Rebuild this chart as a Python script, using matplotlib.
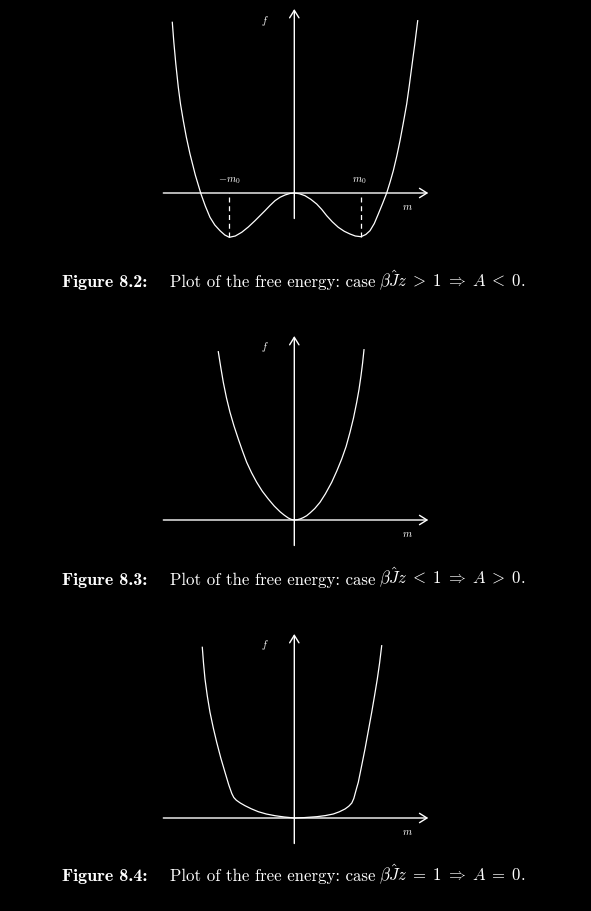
import numpy as np
import matplotlib.pyplot as plt

plt.rcParams['mathtext.fontset'] = 'cm'

# curve samples (arbitrary units, m to the right, f up)
m_82 = [-122, -120.5, -118.5, -116, -113.8, -111, -108, -104.3, -99, -93.3, -89, -84.3, -79.5, -74.3,
        -69.5, -65, -59, -52.6, -46, -39.3, -34.3, -29.3, -24.3, -19.3, -14.3, -9.3, -4.5, 0,
        5, 10.7, 16.5, 22.4, 27.5, 32.4, 38, 44, 50, 55.7, 61, 66.7, 71.5, 75.7, 80, 84,
        88.3, 92.4, 95.8, 99, 102.5, 105.7, 109, 112.4, 115, 117.4, 120.5, 123.4]
f_82 = [170.7, 151.2, 129.2, 105.7, 89, 72.3, 56, 39, 18, -1, -13, -24.3, -32, -37.7,
        -42, -44.3, -43, -39.3, -34, -27.7, -22.7, -17.7, -12.5, -7.7, -4.3, -2, -0.5, 0,
        -0.7, -2.7, -6.3, -11, -16.5, -22.7, -28.8, -34.3, -38.3, -41, -43, -43.7, -41.5, -37.7, -30.5, -21,
        -10.5, 0, 11, 22.3, 37, 52.3, 70, 89, 107.5, 125.7, 149, 172.3]
m0_82 = [-65, 66.7]
fmin_82 = [-44.3, -43.7]

m_83 = [-76, -73.5, -71, -67.8, -64.3, -60.3, -56, -51.8, -47.6, -42.7, -37.6, -32, -26, -20,
        -14.3, -10, -6, -3, 0, 3, 6, 9, 12.4, 16, 20.5, 25.7, 31, 37.4, 42.5, 47.4, 51.8,
        55.7, 59.2, 62.4, 64.7, 66.7, 68.3, 69.7]
f_83 = [168.3, 152.5, 137.7, 122, 107.7, 94, 81, 69, 57.7, 47.2, 37.7, 28.8, 21, 13.9,
        8.3, 4.8, 2, 0.6, 0, 0.3, 1.1, 2.4, 4.3, 7.3, 11.5, 17.7, 26, 37.7, 49, 61, 73.5,
        87.7, 102, 117.7, 130.5, 144.3, 157, 170.3]

m_84 = [-92, -90.8, -89.3, -87, -84.3, -81, -77.6, -73.5, -69.3, -65.5, -62.5, -60.5, -58, -54,
        -49.3, -43, -36, -28, -19.3, -10, 0, 10, 22.4, 31, 39, 45, 50.7, 54.5, 57.5, 59.5,
        61, 62.5, 64, 67.3, 70.7, 74, 77.4, 80.2, 83, 85.3, 87.4]
f_84 = [170.7, 155, 139, 122, 105.7, 90, 75.7, 60, 45.7, 33, 24.5, 20.5, 17.8, 15,
        12.3, 9.2, 6.3, 4, 2.3, 1, 0, 0.4, 1.3, 2.4, 4, 6.2, 9, 11.8, 15, 19.5,
        25, 30.5, 35.7, 52, 69, 87, 105.7, 122, 139, 155, 172.3]

fig_labels = ['Figure 8.2:', 'Figure 8.3:', 'Figure 8.4:']
cap_text = 'Plot of the free energy: case'
cap_math = [r'$\beta\hat{J}z\;>\;1\;\Rightarrow\;A\;<\;0.$',
            r'$\beta\hat{J}z\;<\;1\;\Rightarrow\;A\;>\;0.$',
            r'$\beta\hat{J}z\;=\;1\;\Rightarrow\;A\;=\;0.$']

W, H = 591, 912
fig = plt.figure(figsize=(W / 100, H / 100), dpi=100, facecolor='black')
renderer = fig.canvas.get_renderer()

origins = [194, 521, 819]   # pixel row of each m axis
ox = 294.3
curves = [(m_82, f_82), (m_83, f_83), (m_84, f_84)]
cap_y = [287, 584.5, 881.5]

arr = dict(arrowstyle='->,head_length=0.45,head_width=0.28', color='white', lw=1.0,
           shrinkA=0, shrinkB=0, mutation_scale=12)

for i, oy in enumerate(origins):
    ax = fig.add_axes([140 / W, 1 - (oy + 50) / H, 310 / W, 250 / H])
    ax.set_xlim(140 - ox, 450 - ox)
    ax.set_ylim(-50, 200)
    ax.axis('off')
    ax.patch.set_alpha(0)

    ax.annotate('', xy=(134, 0), xytext=(-131, 0), arrowprops=arr)
    ax.annotate('', xy=(0, 184), xytext=(0, -25.5), arrowprops=arr)

    m, f = curves[i]
    ax.plot(m, f, color='white', lw=0.9, solid_joinstyle='round')

    ax.text(-29.5, 173.5, r'$f$', color='white', fontsize=7.5, ha='center', va='center')
    ax.text(113, -13.3, r'$m$', color='white', fontsize=7.5, ha='center', va='center')

    if i == 0:
        ax.vlines(m0_82, fmin_82, 0, colors='white', lw=0.9, linestyles=(0, (4, 3)))
        ax.text(m0_82[0], 13, r'$-m_0$', color='white', fontsize=7.5, ha='center', va='center')
        ax.text(m0_82[1] - 1.5, 13.5, r'$m_0$', color='white', fontsize=7.5, ha='center', va='center')

    # caption: bold label, roman words, then the math part right after "case"
    yb = 1 - cap_y[i] / H
    fig.text(61.7 / W, yb, fig_labels[i], color='white', fontsize=13, family='cmb10',
             ha='left', va='baseline')
    t2 = fig.text(170 / W, yb, cap_text, color='white', fontsize=12.1, family='cmr10',
                  ha='left', va='baseline')
    x_end = t2.get_window_extent(renderer).x1
    fig.text((x_end + 3.5) / W, yb, cap_math[i], color='white', fontsize=12.1,
             ha='left', va='baseline')

fig.savefig('out.png', dpi=100, facecolor='black')
